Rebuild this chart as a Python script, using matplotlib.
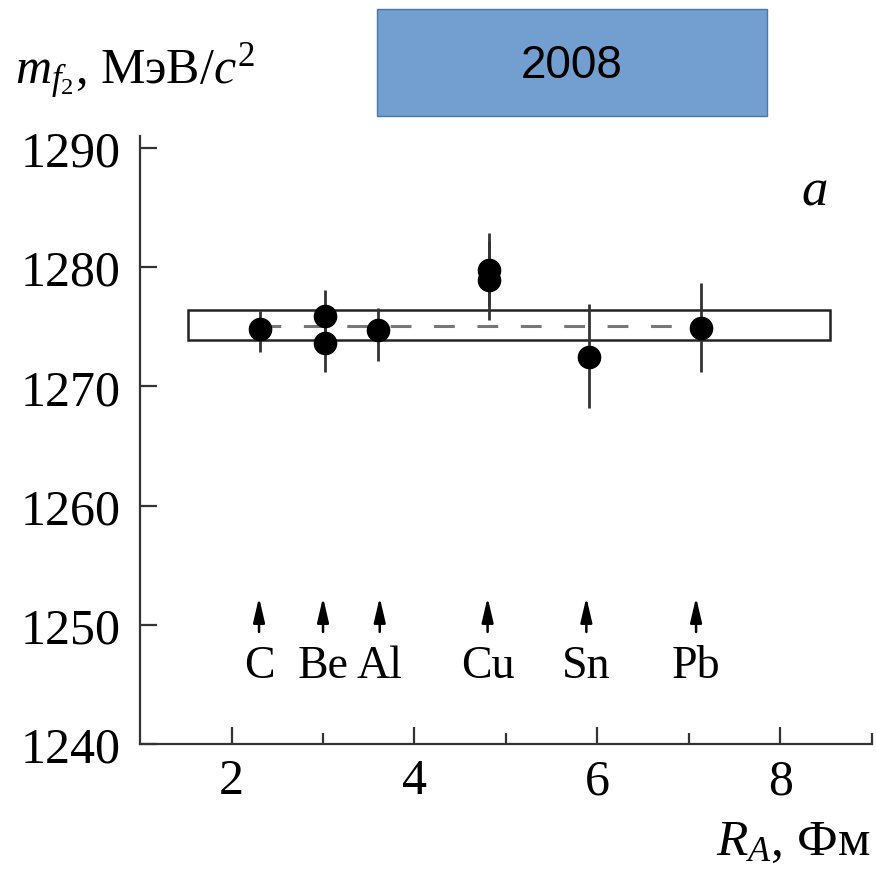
import matplotlib
matplotlib.use("Agg")
import matplotlib.pyplot as plt
import matplotlib.patches as patches

# ---- data ----
r_a = [2.31, 3.02, 3.02, 3.60, 4.82, 4.82, 5.91, 7.13]
mass = [1274.8, 1275.9, 1273.6, 1274.7, 1279.8, 1278.9, 1272.5, 1274.9]
err_lo = [1.9, 2.2, 2.4, 2.6, 3.1, 3.3, 4.3, 3.7]
err_hi = [1.5, 2.2, 2.4, 1.9, 3.1, 3.3, 4.4, 3.8]

nuclei = ["C", "Be", "Al", "Cu", "Sn", "Pb"]
nuclei_r = [2.30, 3.00, 3.62, 4.80, 5.88, 7.08]

band_x = [1.52, 8.54]
band_y = [1273.85, 1276.4]
mean_x = [2.31, 7.13]
mean_m = 1275.1

xticks_major = [2, 4, 6, 8]
xticks_minor = [3, 5, 7, 9]
yticks = [1240, 1250, 1260, 1270, 1280, 1290]

# ---- fonts ----
plt.rcParams['font.family'] = ['Liberation Serif', 'DejaVu Serif']
plt.rcParams['mathtext.fontset'] = 'custom'
plt.rcParams['mathtext.rm'] = 'Liberation Serif'
plt.rcParams['mathtext.it'] = 'Liberation Serif:italic'

fig = plt.figure(figsize=(8.76, 8.70), dpi=100)
ax = fig.add_axes([0.160, 0.1437, 0.835, 0.6988])

ax.set_xlim(1, 9)
ax.set_ylim(1240, 1291)

# band and mean
rect = patches.Rectangle((band_x[0], band_y[0]), band_x[1] - band_x[0],
                         band_y[1] - band_y[0], fill=False,
                         edgecolor='#222222', linewidth=1.8)
ax.add_patch(rect)
ax.plot(mean_x, [mean_m, mean_m], color='#777777', linewidth=2.2,
        dashes=(6.8, 7.4))

# points
yerr = [err_lo, err_hi]
ax.errorbar(r_a, mass, yerr=yerr, fmt='o', color='black', ms=16,
            ecolor='#333333', elinewidth=2, capsize=0, zorder=3)

# nucleus arrows and names
for name, r in zip(nuclei, nuclei_r):
    ax.annotate("", xy=(r, 1252.3), xytext=(r, 1249.4),
                arrowprops=dict(arrowstyle='-|>,head_length=1.5,head_width=0.35',
                                color='black', lw=1.8, shrinkA=0, shrinkB=0))
    ax.text(r, 1246.6, name, ha='center', va='center', fontsize=33)

# axes style
for s in ['top', 'right']:
    ax.spines[s].set_visible(False)
ax.spines['left'].set_linewidth(1.6)
ax.spines['bottom'].set_linewidth(1.6)
ax.spines['left'].set_color('#333333')
ax.spines['bottom'].set_color('#333333')

ax.set_xticks(xticks_major)
ax.set_xticks(xticks_minor, minor=True)
ax.set_yticks(yticks)
ax.tick_params(axis='both', which='major', direction='in', length=12,
               width=1.6, color='#333333', labelsize=36, pad=10)
ax.tick_params(axis='x', which='minor', direction='in', length=8,
               width=1.6, color='#333333')
ax.tick_params(axis='y', which='major', pad=14)

# labels
fig.text(0.017, 0.917, "$m_{f_2}$, МэВ/$c^2$", fontsize=36, ha='left',
         va='center')
fig.text(0.993, 0.031, "$R_A$, Фм", fontsize=37, ha='right', va='center')
ax.text(0.922, 0.91, "$a$", transform=ax.transAxes, fontsize=38,
        ha='center', va='center')

# 2008 box
box = patches.Rectangle((377 / 876, 1 - 117 / 870), 390 / 876, 107 / 870,
                        transform=fig.transFigure, facecolor='#729fcf',
                        edgecolor='#4a76a8', linewidth=1)
fig.patches.append(box)
fig.text(572 / 876, 1 - 66 / 870, "2008", fontsize=33, ha='center',
         va='center', family=['Liberation Sans', 'DejaVu Sans'])

fig.savefig("out.png", dpi=100)
